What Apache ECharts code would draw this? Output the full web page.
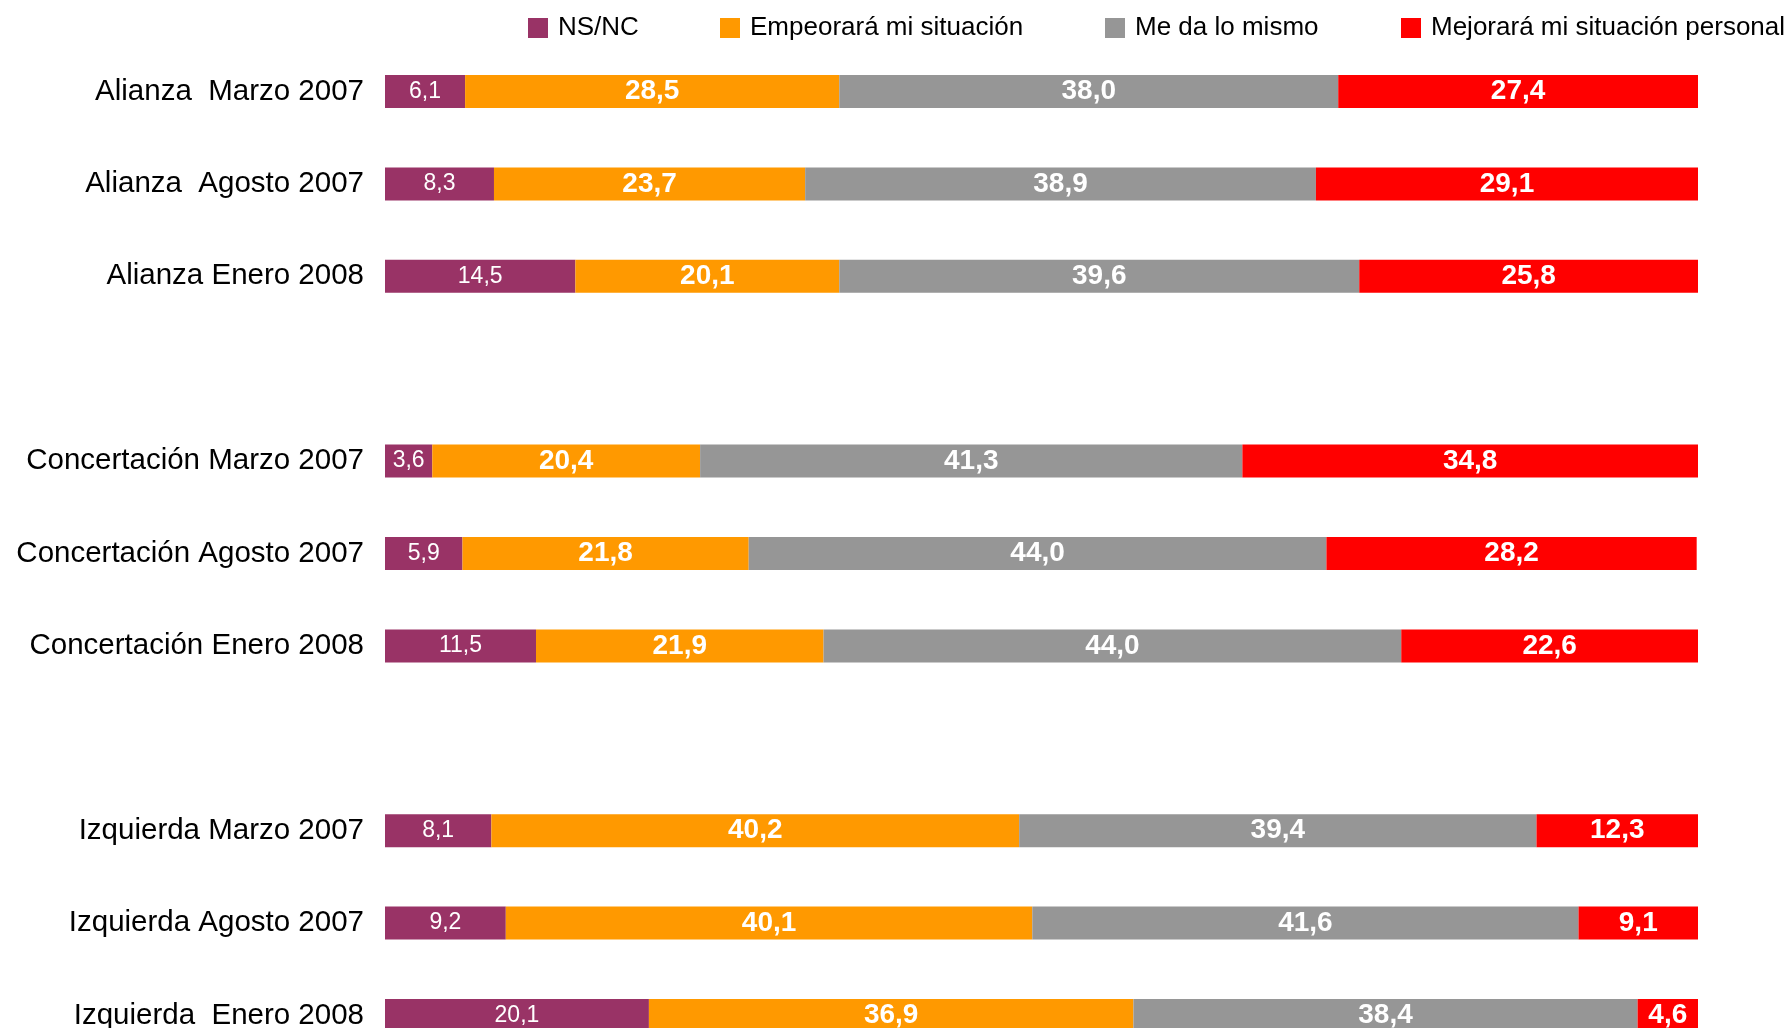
<!DOCTYPE html>
<html>
<head>
<meta charset="utf-8">
<script src="https://cdn.jsdelivr.net/npm/echarts@6/dist/echarts.min.js"></script>
<style>
html,body{margin:0;padding:0;background:#fff;}
#chart{width:1784px;height:1028px;}
</style>
</head>
<body>
<div id="chart"></div>
<script>
const categories = ['Alianza  Marzo 2007', 'Alianza  Agosto 2007', 'Alianza Enero 2008', ' ',
  'Concertación Marzo 2007', 'Concertación Agosto 2007', 'Concertación Enero 2008', '  ',
  'Izquierda Marzo 2007', 'Izquierda Agosto 2007', 'Izquierda  Enero 2008'];
const seriesNames = ['NS/NC', 'Empeorará mi situación', 'Me da lo mismo', 'Mejorará mi situación personal'];
const nsnc = [6.1, 8.3, 14.5, null, 3.6, 5.9, 11.5, null, 8.1, 9.2, 20.1];
const empeorara = [28.5, 23.7, 20.1, null, 20.4, 21.8, 21.9, null, 40.2, 40.1, 36.9];
const meDaLoMismo = [38.0, 38.9, 39.6, null, 41.3, 44.0, 44.0, null, 39.4, 41.6, 38.4];
const mejorara = [27.4, 29.1, 25.8, null, 34.8, 28.2, 22.6, null, 12.3, 9.1, 4.6];

const colors = ['#993366', '#FF9900', '#969696', '#FF0000'];
const legendLefts = [528, 720, 1105, 1401];
const fontFam = "'Liberation Sans', Arial, sans-serif";

const fmt = p => (p.value == null ? '' : Number(p.value).toFixed(1).replace('.', ','));

function mkSeries(name, data, color, bold) {
  return {
    name: name, type: 'bar', stack: 'total', data: data, barWidth: 33,
    itemStyle: { color: color },
    label: {
      show: true, position: 'inside', formatter: fmt, color: '#fff',
      fontFamily: fontFam,
      fontSize: bold ? 28 : 23,
      fontWeight: bold ? 'bold' : 'normal'
    },
    emphasis: { disabled: true }
  };
}

const chart = echarts.init(document.getElementById('chart'), null, { renderer: 'canvas' });
chart.setOption({
  animation: false,
  backgroundColor: '#fff',
  legend: seriesNames.map((n, i) => ({
    data: [n], left: legendLefts[i], top: 15, itemWidth: 20, itemHeight: 20,
    icon: 'rect', selectedMode: false, padding: 0,
    textStyle: { fontFamily: fontFam, fontSize: 26, color: '#000', padding: [0, 0, 0, 5] }
  })),
  grid: { left: 385, right: 86, top: 45.3, height: 1016.4, outerBoundsMode: 'none', containLabel: false },
  xAxis: { type: 'value', min: 0, max: 100, show: false },
  yAxis: {
    type: 'category', data: categories, inverse: true,
    axisLine: { show: false }, axisTick: { show: false }, splitLine: { show: false },
    axisLabel: { color: '#000', fontFamily: fontFam, fontSize: 29.5, margin: 21 }
  },
  series: [
    mkSeries(seriesNames[0], nsnc, colors[0], false),
    mkSeries(seriesNames[1], empeorara, colors[1], true),
    mkSeries(seriesNames[2], meDaLoMismo, colors[2], true),
    mkSeries(seriesNames[3], mejorara, colors[3], true)
  ]
});
</script>
</body>
</html>
